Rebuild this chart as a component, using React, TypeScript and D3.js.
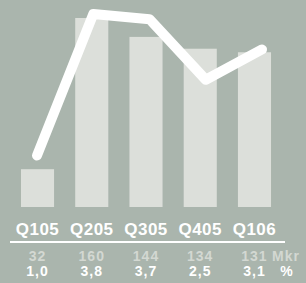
import React, { useEffect } from "react";
import * as d3 from "d3";

// quarter data
const quarters = ["Q105", "Q205", "Q305", "Q405", "Q106"];
const salesMkr = [32, 160, 144, 134, 131];
const marginPct = [1.0, 3.8, 3.7, 2.5, 3.1];
const salesLabels = ["32", "160", "144", "134", "131"];
const pctLabels = ["1,0", "3,8", "3,7", "2,5", "3,1"];

const W = 306;
const H = 283;
const baseY = 207;
const font = "'Liberation Sans', Arial, Helvetica, sans-serif";

export default function App() {
  useEffect(() => {
    document.body.style.margin = "0";
  }, []);

  const x = d3
    .scaleBand<string>()
    .domain(quarters)
    .range([10.4, 281.6])
    .paddingInner(0.39)
    .paddingOuter(0.195);
  const yBar = d3.scaleLinear().domain([0, 160]).range([baseY, 18]);

  const xLine = d3.scalePoint<string>().domain(quarters).range([37, 262]);
  const yLine = d3.scaleLinear().domain([0, 4]).range([206, 4]);

  const line = d3
    .line<number>()
    .x((d, i) => xLine(quarters[i]) as number)
    .y((d) => yLine(d));

  const cx = (q: string) => (x(q) as number) + x.bandwidth() / 2;

  return (
    <svg width={W} height={H} style={{ display: "block" }}>
      <rect width={W} height={H} fill="#aab5ad" />
      {salesMkr.map((v, i) => (
        <rect
          key={quarters[i]}
          x={x(quarters[i])}
          y={yBar(v)}
          width={x.bandwidth()}
          height={baseY - yBar(v)}
          fill="#dcdfda"
        />
      ))}
      <path
        d={line(marginPct) || ""}
        fill="none"
        stroke="#ffffff"
        strokeWidth={10}
        strokeLinejoin="round"
        strokeLinecap="round"
      />
      {quarters.map((q) => (
        <text
          key={q}
          x={cx(q)}
          y={235}
          textAnchor="middle"
          fontFamily={font}
          fontWeight="bold"
          fontSize={17}
          letterSpacing={0.5}
          fill="#ffffff"
        >
          {q}
        </text>
      ))}
      <line x1={10} x2={285} y1={242} y2={242} stroke="#ffffff" strokeWidth={2} />
      {salesLabels.map((s, i) => (
        <text
          key={"s" + i}
          x={cx(quarters[i])}
          y={261}
          textAnchor="middle"
          fontFamily={font}
          fontWeight="bold"
          fontSize={14}
          letterSpacing={1}
          fill="#d3d8d2"
        >
          {s}
        </text>
      ))}
      <text x={272} y={261} fontFamily={font} fontWeight="bold" fontSize={14} fill="#d3d8d2" letterSpacing={1}>
        Mkr
      </text>
      {pctLabels.map((s, i) => (
        <text
          key={"p" + i}
          x={cx(quarters[i])}
          y={276}
          textAnchor="middle"
          fontFamily={font}
          fontWeight="bold"
          fontSize={14}
          letterSpacing={1}
          fill="#ffffff"
        >
          {s}
        </text>
      ))}
      <text x={286.5} y={276} textAnchor="middle" fontFamily={font} fontWeight="bold" fontSize={14} fill="#ffffff">
        %
      </text>
    </svg>
  );
}
